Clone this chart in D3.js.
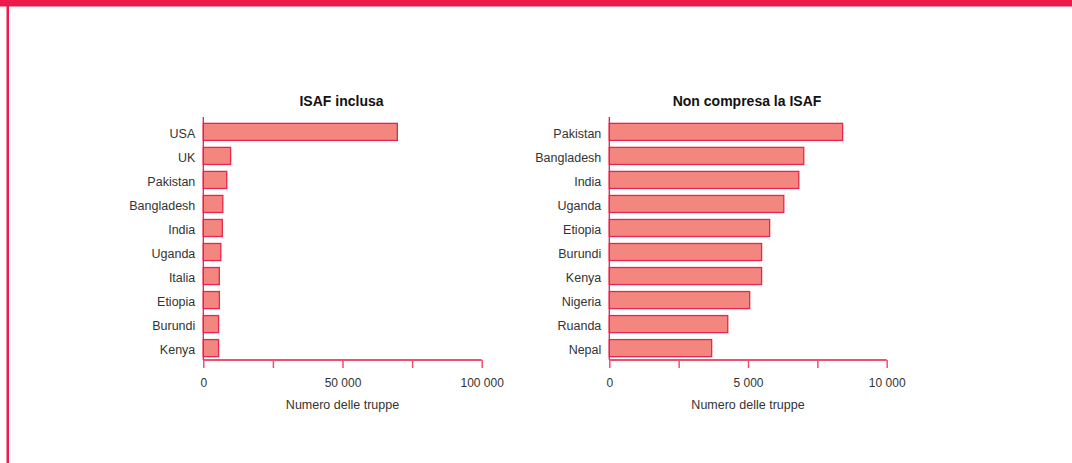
<!DOCTYPE html>
<html><head><meta charset="utf-8">
<script src="https://cdn.jsdelivr.net/npm/d3@7"></script>
<style>
html,body{margin:0;padding:0;background:#fff;}
svg{display:block;font-family:"Liberation Sans",Arial,sans-serif;}
</style></head>
<body>
<svg id="c" width="1072" height="463"></svg>
<script>
const leftTitle = "ISAF inclusa";
const leftCategories = ["USA","UK","Pakistan","Bangladesh","India","Uganda","Italia","Etiopia","Burundi","Kenya"];
const leftValues = [69700, 9800, 8410, 7010, 6830, 6290, 5750, 5780, 5490, 5490];
const leftTicks = [0, 25000, 50000, 75000, 100000];
const leftTickLabels = ["0", "", "50 000", "", "100 000"];

const rightTitle = "Non compresa la ISAF";
const rightCategories = ["Pakistan","Bangladesh","India","Uganda","Etiopia","Burundi","Kenya","Nigeria","Ruanda","Nepal"];
const rightValues = [8410, 7010, 6830, 6290, 5780, 5490, 5490, 5060, 4270, 3690];
const rightTicks = [0, 2500, 5000, 7500, 10000];
const rightTickLabels = ["0", "", "5 000", "", "10 000"];

const axisTitle = "Numero delle truppe";

const svg = d3.select("#c");
const RED = "#EE1A4B";
const AXIS = "#F0506E";

svg.append("rect").attr("x",0).attr("y",0).attr("width",1072).attr("height",6.5).attr("fill",RED);
svg.append("rect").attr("x",6.5).attr("y",0).attr("width",2.5).attr("height",463).attr("fill",RED);

function panel(x0, x1, cats, vals, ticks, tickLabels, title) {
  const y = d3.scaleBand().domain(cats).range([120, 360]).paddingInner(0.29).paddingOuter(0.14);
  const x = d3.scaleLinear().domain([0, ticks[ticks.length-1]]).range([x0, x1]);
  const g = svg.append("g");

  g.append("text").attr("x",(x0+x1)/2 - 1).attr("y",105.5).attr("text-anchor","middle")
    .attr("font-weight","bold").attr("font-size",14).attr("fill","#111").text(title);

  g.selectAll("rect.bar").data(cats).enter().append("rect").attr("class","bar")
    .attr("x", x(0)).attr("y", d=>y(d))
    .attr("width", (d,i)=>x(vals[i]) - x(0)).attr("height", y.bandwidth())
    .attr("fill","#F3877F").attr("stroke","#E8254E").attr("stroke-width",1.3);

  g.selectAll("text.cat").data(cats).enter().append("text").attr("class","cat")
    .attr("x", x0 - 8).attr("y", d=>y(d)+y.bandwidth()/2 + 2).attr("dy","0.35em")
    .attr("text-anchor","end").attr("font-size",12.5).attr("fill","#333").text(d=>d);

  g.append("line").attr("x1",x0).attr("x2",x0).attr("y1",117).attr("y2",360)
    .attr("stroke",RED).attr("stroke-width",1.3);

  const ax = d3.axisBottom(x).tickValues(ticks).tickSize(8).tickFormat((d,i)=>tickLabels[i]);
  const axg = g.append("g").attr("transform","translate(0,360)").call(ax);
  axg.select(".domain").attr("stroke",AXIS).attr("stroke-width",2).attr("d",`M${x0},0H${x1}`);
  axg.selectAll(".tick line").attr("stroke",AXIS).attr("stroke-width",1.5);
  axg.selectAll(".tick text").attr("font-size",12).attr("fill","#333").attr("y",18)
    .attr("font-family","\"Liberation Sans\",Arial,sans-serif");

  g.append("text").attr("x",(x0+x1)/2).attr("y",409).attr("text-anchor","middle")
    .attr("font-size",12.5).attr("fill","#333").text(axisTitle);
}

panel(203.3, 481.7, leftCategories, leftValues, leftTicks, leftTickLabels, leftTitle);
panel(609.3, 886.7, rightCategories, rightValues, rightTicks, rightTickLabels, rightTitle);
</script>
</body></html>
